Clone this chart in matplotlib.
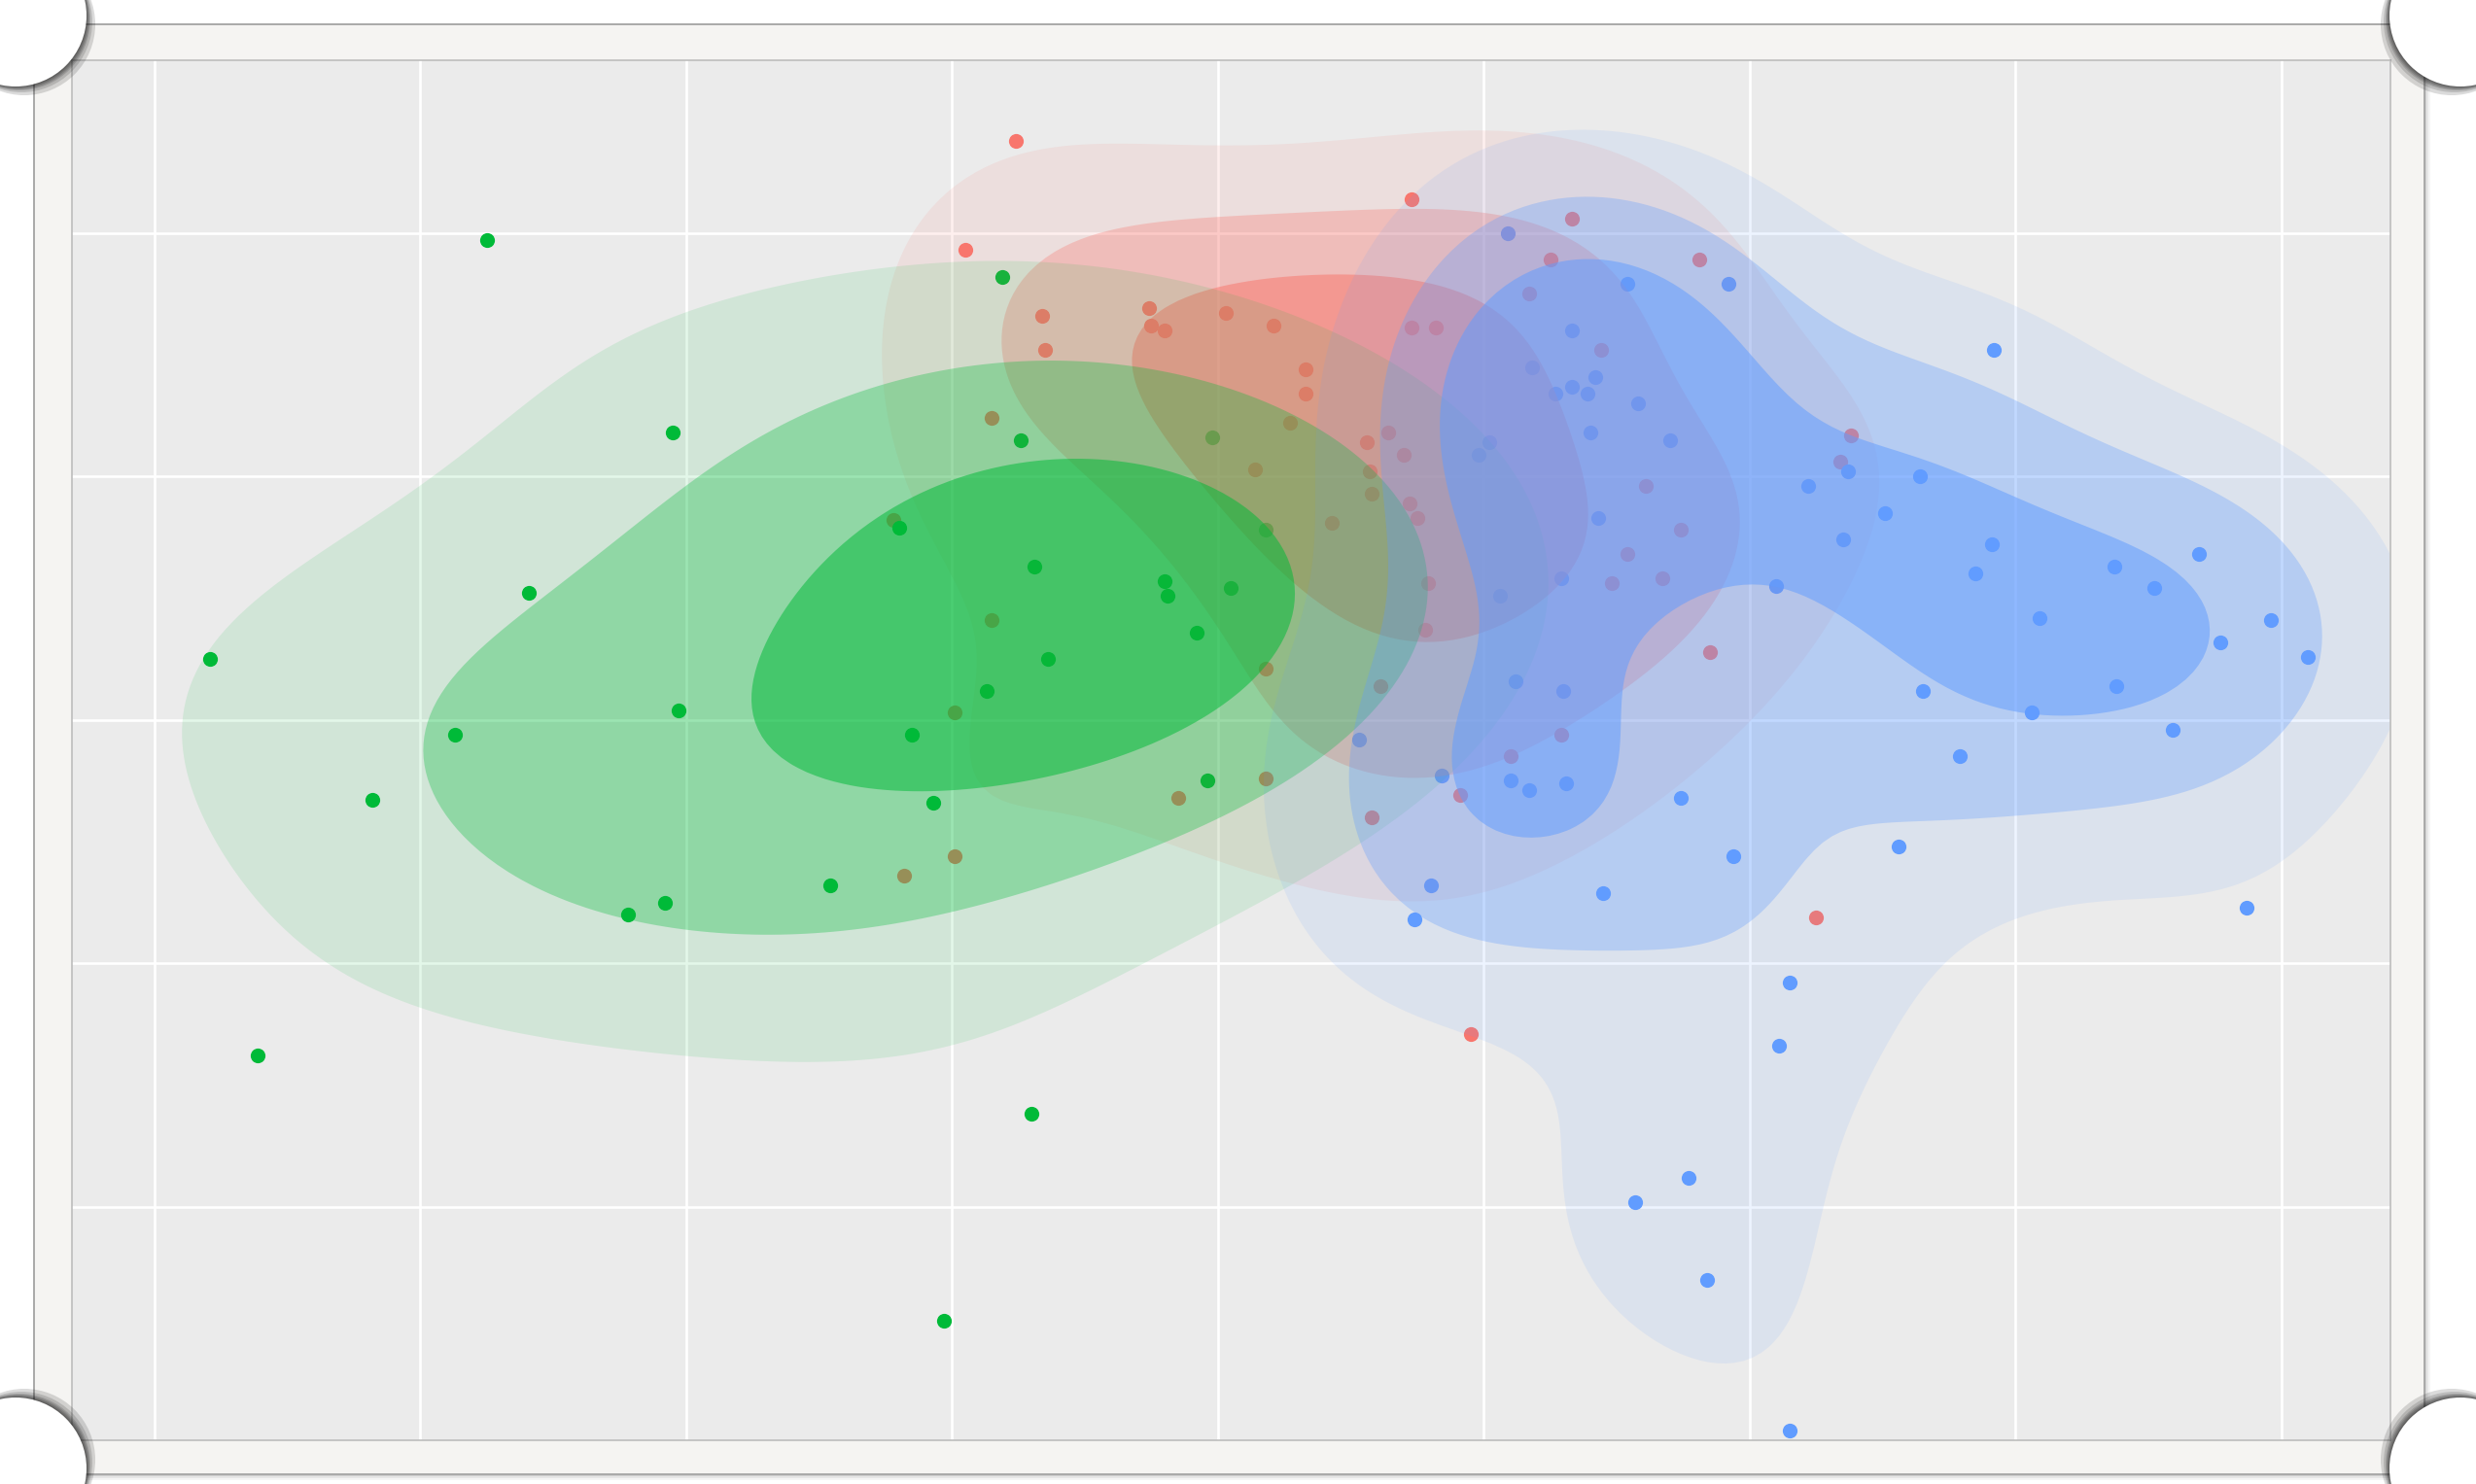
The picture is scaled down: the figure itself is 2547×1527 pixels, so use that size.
import numpy as np
import matplotlib
matplotlib.use("Agg")
import matplotlib.pyplot as plt
from matplotlib.patches import Rectangle, Circle

# --- dados (unidades do eixo: grade em x = 0..8, y = 0..4) ---
red_x = [3.24, 4.73, 5.33, 3.05, 5.25, 5.81, 5.17, 3.34, 3.35, 3.74, 3.75, 3.80, 4.03, 4.21,
         4.73, 4.82, 5.44, 4.33, 4.33, 4.27, 3.15, 4.14, 4.56, 4.64, 4.70, 4.57, 4.58, 4.72,
         4.75, 2.78, 6.38, 6.34, 5.61, 5.74, 5.54, 5.48, 5.67, 4.79, 4.78, 5.85, 4.18, 4.61,
         3.15, 3.01, 5.29, 5.10, 4.91, 4.58, 3.85, 4.18, 3.01, 2.82, 6.25, 4.95, 4.43]
red_y = [4.38, 4.14, 4.06, 3.93, 3.89, 3.89, 3.75, 3.66, 3.52, 3.69, 3.62, 3.60, 3.67, 3.62,
         3.61, 3.61, 3.52, 3.44, 3.34, 3.22, 3.24, 3.03, 3.14, 3.18, 3.09, 3.02, 2.93, 2.89,
         2.83, 2.82, 3.17, 3.06, 2.96, 2.78, 2.68, 2.56, 2.58, 2.56, 2.37, 2.28, 2.21, 2.14,
         2.41, 2.03, 1.94, 1.85, 1.69, 1.60, 1.68, 1.76, 1.44, 1.36, 1.19, 0.71, 2.81]

green_x = [1.25, 1.95, 3.19, 1.41, 0.21, 1.13, 1.97, 0.82, 0.39, 1.78, 1.92, 2.54, 3.30, 2.97,
           3.26, 2.80, 2.85, 2.93, 3.13, 3.36, 3.96, 3.31, 3.80, 3.81, 4.05, 3.92, 3.98, 4.18]
green_y = [3.97, 3.18, 3.82, 2.52, 2.25, 1.94, 2.04, 1.67, 0.62, 1.20, 1.25, 1.32, 0.38, -0.47,
           3.15, 2.79, 1.94, 1.66, 2.12, 2.25, 1.75, 2.63, 2.57, 2.51, 2.54, 2.36, 3.16, 2.78]

blue_x = [5.09, 5.54, 5.92, 5.33, 5.42, 5.58, 6.92, 5.70, 5.18, 5.27, 5.33, 5.39, 5.40, 5.02,
          4.98, 5.43, 6.37, 6.22, 6.64, 6.51, 6.35, 6.91, 6.85, 6.10, 7.37, 7.69, 7.52, 7.09,
          7.96, 7.77, 8.10, 6.65, 7.38, 7.06, 7.59, 6.79, 5.29, 5.06, 5.12, 5.30, 4.53, 4.84,
          5.10, 5.17, 5.31, 4.80, 4.74, 5.45, 5.74, 5.94, 6.56, 7.87, 6.15, 6.11, 5.77, 5.57,
          5.84, 6.15]
blue_y = [4.00, 3.79, 3.79, 3.60, 3.41, 3.30, 3.52, 3.15, 3.45, 3.34, 3.37, 3.34, 3.18, 3.14,
          3.09, 2.83, 3.02, 2.96, 3.00, 2.85, 2.74, 2.72, 2.60, 2.55, 2.63, 2.68, 2.54, 2.42,
          2.41, 2.32, 2.26, 2.12, 2.14, 2.03, 1.96, 1.85, 2.58, 2.51, 2.16, 2.12, 1.92, 1.77,
          1.75, 1.71, 1.74, 1.32, 1.18, 1.29, 1.68, 1.44, 1.48, 1.23, 0.92, 0.66, 0.12, 0.02,
          -0.30, -0.92]

# nome, x, y, cor, níveis (fração do pico), fator de banda
SERIES = [("rouge", red_x, red_y, "#F8766D", [0.22, 0.43, 0.66], 1.20),
          ("vert", green_x, green_y, "#00BA38", [0.27, 0.49, 0.76], 1.50),
          ("bleu", blue_x, blue_y, "#619CFF", [0.17, 0.36, 0.60], 1.05)]
ALPHAS = [0.11, 0.31, 0.52]

W, H = 2547, 1527


def bw(v):
    v = np.asarray(v)
    q1, q3 = np.percentile(v, [25, 75])
    return 1.06 * min(v.std(ddof=1), (q3 - q1) / 1.34) * len(v) ** -0.2


def kde2d(x, y, gx, gy, k=1.0):
    x, y = np.asarray(x), np.asarray(y)
    hx, hy = k * bw(x), k * bw(y)
    kx = np.exp(-0.5 * ((gx[:, None] - x[None, :]) / hx) ** 2) / hx
    ky = np.exp(-0.5 * ((gy[:, None] - y[None, :]) / hy) ** 2) / hy
    return ky @ kx.T / (2 * np.pi * len(x))


fig = plt.figure(figsize=(W / 100, H / 100), dpi=100)
fig.patch.set_facecolor("white")

# --- moldura "papel" ---
bg = fig.add_axes([0, 0, 1, 1], zorder=0)
bg.set_xlim(0, W); bg.set_ylim(H, 0); bg.axis("off")
for d, a in [(6, 0.04), (4, 0.06), (2, 0.09)]:
    bg.add_patch(Rectangle((35 + d, 25 + d), 2459, 1492, fc="black", alpha=a, lw=0))
bg.add_patch(Rectangle((35, 25), 2459, 1492, fc="#F5F4F2", ec="#A9A9A9", lw=1.4))

# --- painel ---
ax = fig.add_axes([74 / W, 1 - 1482 / H, (2459 - 74) / W, (1482 - 62) / H], zorder=1)
ax.set_facecolor("#EBEBEB")
ax.set_xlim(-0.31, 8.41); ax.set_ylim(-0.96, 4.71)
ax.set_xticks(range(0, 9)); ax.set_yticks(range(0, 5))
ax.tick_params(length=0, labelbottom=False, labelleft=False)
ax.grid(True, color="white", lw=1.9)
ax.set_axisbelow(True)
for s in ax.spines.values():
    s.set_color("#BDBDBD"); s.set_linewidth(1.2)

gx = np.linspace(-1.2, 9.4, 320)
gy = np.linspace(-2.0, 5.6, 260)
for name, xs, ys, col, fr, k in SERIES:
    ax.scatter(xs, ys, s=120, color=col, lw=0, zorder=1.5)
for name, xs, ys, col, fr, k in SERIES:
    z = kde2d(xs, ys, gx, gy, k)
    zmax = z.max()
    for f, a in zip(fr, ALPHAS):
        ax.contourf(gx, gy, z, levels=[f * zmax, zmax * 2], colors=[col], alpha=a,
                    zorder=2, antialiased=True)

# --- cantos enrolados ---
ov = fig.add_axes([0, 0, 1, 1], zorder=3)
ov.set_xlim(0, W); ov.set_ylim(H, 0); ov.axis("off")
ov.patch.set_alpha(0)
R = 73
for cx, cy, dx, dy in [(16, 16, 1, 1), (W - 16, 16, -1, 1), (16, H - 16, 1, -1), (W - 16, H - 16, -1, -1)]:
    for k in [1, 2, 3, 4, 6, 9]:
        ov.add_patch(Circle((cx + dx * k, cy + dy * k), R, fc="black", alpha=0.14, lw=0))
    ov.add_patch(Circle((cx, cy), R, fc="white", lw=0))

fig.savefig("out.png", dpi=100)
